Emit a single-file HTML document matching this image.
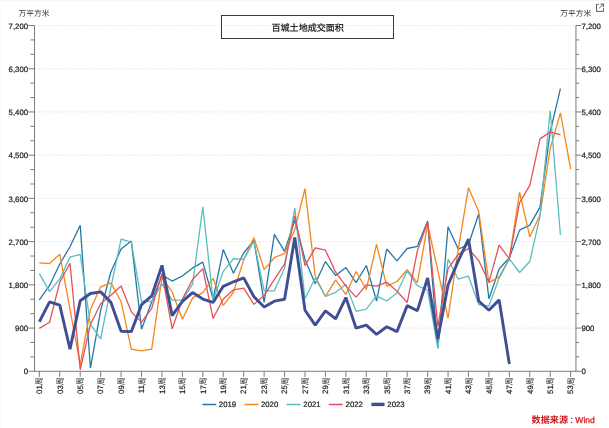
<!DOCTYPE html>
<html><head><meta charset="utf-8"><title>chart</title>
<style>html,body{margin:0;padding:0;background:#fff;}body{width:609px;height:428px;overflow:hidden;font-family:"Liberation Sans",sans-serif;}svg{display:block}</style>
</head><body>
<svg width="609" height="428" viewBox="0 0 609 428" style="will-change:transform;text-rendering:geometricPrecision">
<rect width="609" height="428" fill="#fff"/>
<path d="M0 0.5H609" stroke="#f5f6f6" stroke-width="1" fill="none"/><path d="M0.5 0V428" stroke="#fbfbfb" stroke-width="1" fill="none"/>
<path d="M34.5 328.07H575.95M34.5 284.85H575.95M34.5 241.62H575.95M34.5 198.40H575.95M34.5 155.18H575.95M34.5 111.95H575.95M34.5 68.73H575.95M34.5 25.50H575.95" stroke="#e2e2e2" stroke-width="0.8" stroke-dasharray="2 1.45" fill="none"/>
<polyline points="39.35,299.88 49.57,285.43 59.78,264.01 70.00,246.76 80.22,225.34 90.44,368.18 100.66,310.30 110.87,272.03 121.09,249.02 131.31,241.00 141.53,329.28 151.74,301.66 161.96,274.86 172.18,281.06 182.39,276.01 192.61,267.94 202.83,262.18 213.05,299.02 223.26,249.55 233.48,273.23 243.70,253.01 253.92,240.33 264.13,302.48 274.35,234.32 284.57,251.33 294.79,220.25 305.00,259.40 315.22,283.79 325.44,261.56 335.66,275.58 345.88,267.56 356.09,282.64 366.31,265.49 376.53,301.04 386.75,249.02 396.96,260.84 407.18,248.49 417.40,246.33 427.62,221.02 437.83,348.10 448.05,226.78 458.27,249.07 468.49,244.51 478.70,214.01 488.92,298.73 499.14,269.00 509.36,257.81 519.57,230.10 529.79,225.06 540.01,207.09 550.22,131.64 560.44,88.66" fill="none" stroke="#2577a8" stroke-width="1.3" stroke-linejoin="bevel" stroke-linecap="butt"/>
<polyline points="39.35,262.85 49.57,263.53 59.78,254.35 70.00,309.34 80.22,364.58 90.44,309.54 100.66,286.77 110.87,282.93 121.09,301.52 131.31,349.11 141.53,350.94 151.74,349.11 161.96,277.26 172.18,292.10 182.39,319.24 192.61,297.87 202.83,292.58 213.05,278.32 223.26,305.45 233.48,292.10 243.70,259.92 253.92,237.59 264.13,269.58 274.35,257.71 284.57,253.39 294.79,229.47 305.00,188.75 315.22,276.20 325.44,296.42 335.66,279.86 345.88,294.60 356.09,271.50 366.31,289.51 376.53,244.41 386.75,286.10 396.96,281.49 407.18,269.72 417.40,282.64 427.62,224.48 437.83,270.44 448.05,318.28 458.27,249.07 468.49,187.64 478.70,211.46 488.92,282.64 499.14,276.88 509.36,258.67 519.57,192.25 529.79,236.92 540.01,215.07 550.22,148.45 560.44,112.86 570.66,169.10" fill="none" stroke="#f5861c" stroke-width="1.3" stroke-linejoin="bevel" stroke-linecap="butt"/>
<polyline points="39.35,273.66 49.57,291.57 59.78,278.94 70.00,257.09 80.22,254.35 90.44,324.47 100.66,338.98 110.87,287.25 121.09,239.18 131.31,242.15 141.53,301.52 151.74,301.42 161.96,283.79 172.18,300.17 182.39,300.17 192.61,284.03 202.83,206.80 213.05,300.17 223.26,271.40 233.48,258.77 243.70,259.44 253.92,241.48 264.13,290.95 274.35,290.81 284.57,268.04 294.79,208.05 305.00,298.73 315.22,278.03 325.44,296.42 335.66,292.29 345.88,284.47 356.09,311.36 366.31,309.06 376.53,295.94 386.75,301.04 396.96,292.97 407.18,270.83 417.40,285.62 427.62,290.23 437.83,348.20 448.05,259.06 458.27,279.18 468.49,276.20 478.70,304.49 488.92,306.08 499.14,278.13 509.36,258.92 519.57,272.51 529.79,261.56 540.01,216.22 550.22,110.56 560.44,234.95" fill="none" stroke="#5bbdbe" stroke-width="1.3" stroke-linejoin="bevel" stroke-linecap="butt"/>
<polyline points="39.35,328.41 49.57,322.22 59.78,282.16 70.00,263.24 80.22,369.81 90.44,324.47 100.66,303.82 110.87,295.27 121.09,286.05 131.31,311.84 141.53,322.12 151.74,308.29 161.96,273.47 172.18,328.89 182.39,299.02 192.61,279.47 202.83,268.66 213.05,318.57 223.26,299.02 233.48,289.80 243.70,288.21 253.92,304.30 264.13,295.56 274.35,279.47 284.57,264.20 294.79,215.64 305.00,265.64 315.22,247.87 325.44,250.17 335.66,272.17 345.88,286.10 356.09,297.10 366.31,284.95 376.53,286.10 386.75,282.16 396.96,291.24 407.18,302.52 417.40,250.89 427.62,222.17 437.83,326.35 448.05,268.52 458.27,254.35 468.49,248.64 478.70,260.55 488.92,282.16 499.14,245.18 509.36,258.72 519.57,202.58 529.79,185.43 540.01,138.89 550.22,132.03 560.44,134.57" fill="none" stroke="#e2525a" stroke-width="1.3" stroke-linejoin="bevel" stroke-linecap="butt"/>
<polyline points="39.35,321.74 49.57,301.95 59.78,305.17 70.00,349.11 80.22,300.80 90.44,293.45 100.66,291.86 110.87,302.19 121.09,331.20 131.31,331.63 141.53,304.64 151.74,295.90 161.96,265.40 172.18,315.59 182.39,301.32 192.61,292.58 202.83,299.02 213.05,302.48 223.26,286.34 233.48,281.78 243.70,277.84 253.92,296.71 264.13,307.04 274.35,301.18 284.57,299.21 294.79,237.54 305.00,310.21 315.22,325.19 325.44,310.93 335.66,318.95 345.88,297.58 356.09,328.17 366.31,325.19 376.53,334.37 386.75,326.78 396.96,331.63 407.18,305.65 417.40,310.69 427.62,278.03 437.83,338.98 448.05,284.95 458.27,260.84 468.49,239.13 478.70,301.04 488.92,310.21 499.14,299.88 509.36,364.10" fill="none" stroke="#404e93" stroke-width="2.9" stroke-linejoin="bevel" stroke-linecap="butt"/>
<path d="M34.5 25.5V371.3M575.95 25.5V371.3M28.4 371.3H581.1500000000001M30.40 356.89H34.5M575.95 356.89H579.15M30.40 342.48H34.5M575.95 342.48H579.15M28.40 328.07H34.5M575.95 328.07H581.15M30.40 313.67H34.5M575.95 313.67H579.15M30.40 299.26H34.5M575.95 299.26H579.15M28.40 284.85H34.5M575.95 284.85H581.15M30.40 270.44H34.5M575.95 270.44H579.15M30.40 256.03H34.5M575.95 256.03H579.15M28.40 241.62H34.5M575.95 241.62H581.15M30.40 227.22H34.5M575.95 227.22H579.15M30.40 212.81H34.5M575.95 212.81H579.15M28.40 198.40H34.5M575.95 198.40H581.15M30.40 183.99H34.5M575.95 183.99H579.15M30.40 169.58H34.5M575.95 169.58H579.15M28.40 155.18H34.5M575.95 155.18H581.15M30.40 140.77H34.5M575.95 140.77H579.15M30.40 126.36H34.5M575.95 126.36H579.15M28.40 111.95H34.5M575.95 111.95H581.15M30.40 97.54H34.5M575.95 97.54H579.15M30.40 83.13H34.5M575.95 83.13H579.15M28.40 68.73H34.5M575.95 68.73H581.15M30.40 54.32H34.5M575.95 54.32H579.15M30.40 39.91H34.5M575.95 39.91H579.15M28.40 25.50H34.5M575.95 25.50H581.15M39.35 371.3V376.90M59.78 371.3V376.90M80.22 371.3V376.90M100.66 371.3V376.90M121.09 371.3V376.90M141.53 371.3V376.90M161.96 371.3V376.90M182.39 371.3V376.90M202.83 371.3V376.90M223.26 371.3V376.90M243.70 371.3V376.90M264.13 371.3V376.90M284.57 371.3V376.90M305.00 371.3V376.90M325.44 371.3V376.90M345.88 371.3V376.90M366.31 371.3V376.90M386.75 371.3V376.90M407.18 371.3V376.90M427.62 371.3V376.90M448.05 371.3V376.90M468.49 371.3V376.90M488.92 371.3V376.90M509.36 371.3V376.90M529.79 371.3V376.90M550.22 371.3V376.90M570.66 371.3V376.90" stroke="#757575" stroke-width="0.95" fill="none"/>
<g font-family="Liberation Sans, sans-serif" font-size="7.8" fill="#1a1a1a" stroke="#1a1a1a" stroke-width="0.2">
<text x="28.10" y="374.45" text-anchor="end">0</text>
<text x="581.45" y="374.45">0</text>
<text x="28.10" y="331.22" text-anchor="end">900</text>
<text x="581.45" y="331.22">900</text>
<text x="28.10" y="288.00" text-anchor="end">1,800</text>
<text x="581.45" y="288.00">1,800</text>
<text x="28.10" y="244.78" text-anchor="end">2,700</text>
<text x="581.45" y="244.78">2,700</text>
<text x="28.10" y="201.55" text-anchor="end">3,600</text>
<text x="581.45" y="201.55">3,600</text>
<text x="28.10" y="158.33" text-anchor="end">4,500</text>
<text x="581.45" y="158.33">4,500</text>
<text x="28.10" y="115.10" text-anchor="end">5,400</text>
<text x="581.45" y="115.10">5,400</text>
<text x="28.10" y="71.88" text-anchor="end">6,300</text>
<text x="581.45" y="71.88">6,300</text>
<text x="28.10" y="28.65" text-anchor="end">7,200</text>
<text x="581.45" y="28.65">7,200</text>
<text transform="translate(42.10 385.20) rotate(-90)" text-anchor="end">01</text>
<text transform="translate(62.53 385.20) rotate(-90)" text-anchor="end">03</text>
<text transform="translate(82.97 385.20) rotate(-90)" text-anchor="end">05</text>
<text transform="translate(103.41 385.20) rotate(-90)" text-anchor="end">07</text>
<text transform="translate(123.84 385.20) rotate(-90)" text-anchor="end">09</text>
<text transform="translate(144.28 385.20) rotate(-90)" text-anchor="end">11</text>
<text transform="translate(164.71 385.20) rotate(-90)" text-anchor="end">13</text>
<text transform="translate(185.14 385.20) rotate(-90)" text-anchor="end">15</text>
<text transform="translate(205.58 385.20) rotate(-90)" text-anchor="end">17</text>
<text transform="translate(226.01 385.20) rotate(-90)" text-anchor="end">19</text>
<text transform="translate(246.45 385.20) rotate(-90)" text-anchor="end">21</text>
<text transform="translate(266.88 385.20) rotate(-90)" text-anchor="end">23</text>
<text transform="translate(287.32 385.20) rotate(-90)" text-anchor="end">25</text>
<text transform="translate(307.75 385.20) rotate(-90)" text-anchor="end">27</text>
<text transform="translate(328.19 385.20) rotate(-90)" text-anchor="end">29</text>
<text transform="translate(348.62 385.20) rotate(-90)" text-anchor="end">31</text>
<text transform="translate(369.06 385.20) rotate(-90)" text-anchor="end">33</text>
<text transform="translate(389.50 385.20) rotate(-90)" text-anchor="end">35</text>
<text transform="translate(409.93 385.20) rotate(-90)" text-anchor="end">37</text>
<text transform="translate(430.37 385.20) rotate(-90)" text-anchor="end">39</text>
<text transform="translate(450.80 385.20) rotate(-90)" text-anchor="end">41</text>
<text transform="translate(471.24 385.20) rotate(-90)" text-anchor="end">43</text>
<text transform="translate(491.67 385.20) rotate(-90)" text-anchor="end">45</text>
<text transform="translate(512.11 385.20) rotate(-90)" text-anchor="end">47</text>
<text transform="translate(532.54 385.20) rotate(-90)" text-anchor="end">49</text>
<text transform="translate(552.97 385.20) rotate(-90)" text-anchor="end">51</text>
<text transform="translate(573.41 385.20) rotate(-90)" text-anchor="end">53</text>
</g>
<g font-family="'Liberation Sans', 'Noto Sans CJK SC', sans-serif" font-size="8.05" fill="#1a1a1a">
<text transform="translate(42.10 385.20) rotate(-90)" x="-0.15" y="0.35">周</text>
<text transform="translate(62.53 385.20) rotate(-90)" x="-0.15" y="0.35">周</text>
<text transform="translate(82.97 385.20) rotate(-90)" x="-0.15" y="0.35">周</text>
<text transform="translate(103.41 385.20) rotate(-90)" x="-0.15" y="0.35">周</text>
<text transform="translate(123.84 385.20) rotate(-90)" x="-0.15" y="0.35">周</text>
<text transform="translate(144.28 385.20) rotate(-90)" x="-0.15" y="0.35">周</text>
<text transform="translate(164.71 385.20) rotate(-90)" x="-0.15" y="0.35">周</text>
<text transform="translate(185.14 385.20) rotate(-90)" x="-0.15" y="0.35">周</text>
<text transform="translate(205.58 385.20) rotate(-90)" x="-0.15" y="0.35">周</text>
<text transform="translate(226.01 385.20) rotate(-90)" x="-0.15" y="0.35">周</text>
<text transform="translate(246.45 385.20) rotate(-90)" x="-0.15" y="0.35">周</text>
<text transform="translate(266.88 385.20) rotate(-90)" x="-0.15" y="0.35">周</text>
<text transform="translate(287.32 385.20) rotate(-90)" x="-0.15" y="0.35">周</text>
<text transform="translate(307.75 385.20) rotate(-90)" x="-0.15" y="0.35">周</text>
<text transform="translate(328.19 385.20) rotate(-90)" x="-0.15" y="0.35">周</text>
<text transform="translate(348.62 385.20) rotate(-90)" x="-0.15" y="0.35">周</text>
<text transform="translate(369.06 385.20) rotate(-90)" x="-0.15" y="0.35">周</text>
<text transform="translate(389.50 385.20) rotate(-90)" x="-0.15" y="0.35">周</text>
<text transform="translate(409.93 385.20) rotate(-90)" x="-0.15" y="0.35">周</text>
<text transform="translate(430.37 385.20) rotate(-90)" x="-0.15" y="0.35">周</text>
<text transform="translate(450.80 385.20) rotate(-90)" x="-0.15" y="0.35">周</text>
<text transform="translate(471.24 385.20) rotate(-90)" x="-0.15" y="0.35">周</text>
<text transform="translate(491.67 385.20) rotate(-90)" x="-0.15" y="0.35">周</text>
<text transform="translate(512.11 385.20) rotate(-90)" x="-0.15" y="0.35">周</text>
<text transform="translate(532.54 385.20) rotate(-90)" x="-0.15" y="0.35">周</text>
<text transform="translate(552.97 385.20) rotate(-90)" x="-0.15" y="0.35">周</text>
<text transform="translate(573.41 385.20) rotate(-90)" x="-0.15" y="0.35">周</text>
</g>
<text x="18.60" y="15.60" font-family="'Liberation Sans', 'Noto Sans CJK SC', sans-serif" font-size="7.75" fill="#333">万平方米</text>
<text x="560.30" y="15.60" font-family="'Liberation Sans', 'Noto Sans CJK SC', sans-serif" font-size="7.75" fill="#333">万平方米</text>
<rect x="221.5" y="15.5" width="172" height="23" fill="none" stroke="#3a3a3a" stroke-width="1"/>
<text x="271.50" y="30.70" font-family="'Liberation Sans', 'Noto Sans CJK SC', sans-serif" font-size="9.05" fill="#111" stroke="#111" stroke-width="0.2">百城土地成交面积</text>
<g fill="none" stroke="#484848" stroke-width="0.9" stroke-linecap="butt" stroke-linejoin="miter"><path d="M598.7 4.35H596.5V11.4H603.5V8.2"/><path d="M599.2 8.2L603.3 4.2"/><path d="M600.5 4.1H603.55V7.0"/></g>
<g font-family="Liberation Sans, sans-serif" font-size="7.8" fill="#1a1a1a" stroke="#1a1a1a" stroke-width="0.2">
<path d="M203.0 404.5H215.6" stroke="#2577a8" stroke-width="1.5" stroke-linecap="round"/>
<text x="218.80" y="407.3">2019</text>
<path d="M245.2 404.5H257.8" stroke="#f5861c" stroke-width="1.5" stroke-linecap="round"/>
<text x="260.90" y="407.3">2020</text>
<path d="M287.3 404.5H299.9" stroke="#5bbdbe" stroke-width="1.5" stroke-linecap="round"/>
<text x="303.30" y="407.3">2021</text>
<path d="M329.40000000000003 404.5H342.0" stroke="#e2525a" stroke-width="1.5" stroke-linecap="round"/>
<text x="345.60" y="407.3">2022</text>
<path d="M371.4 404.4H384.5" stroke="#404e93" stroke-width="3.4"/>
<text x="387.30" y="407.3">2023</text>
</g>
<text x="531.60" y="423.30" font-family="'Liberation Sans', 'Noto Sans CJK SC', sans-serif" font-size="9.1" font-weight="bold" fill="#d0161b">数据来源</text>
<circle cx="571.7" cy="418.5" r="0.75" fill="#d0161b"/><circle cx="571.7" cy="422.5" r="0.75" fill="#d0161b"/>
<text x="575.3" y="422.9" font-family="Liberation Sans, sans-serif" font-size="8.6" fill="#d0161b" stroke="#d0161b" stroke-width="0.25">Wind</text>
</svg>
</body></html>
